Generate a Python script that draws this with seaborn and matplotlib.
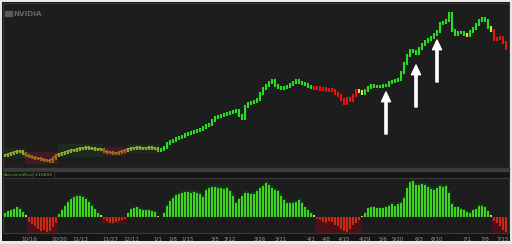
import numpy as np
import pandas as pd
import matplotlib
matplotlib.use("Agg")
import matplotlib.pyplot as plt
from matplotlib.patches import Rectangle
import seaborn as sns

# ---------------- data ----------------
price = [15, 16, 17, 18, 19, 19, 17, 15, 14, 13,
         12, 12, 11, 10, 10, 9, 12, 15, 16, 17,
         18, 19, 20, 20, 21, 22, 22, 23, 22, 22,
         21, 21, 21, 19, 18, 18, 17, 17, 18, 19,
         20, 21, 22, 22, 23, 22, 22, 22, 23, 22,
         22, 20, 21, 23, 27, 29, 30, 32, 33, 34,
         36, 37, 38, 39, 40, 41, 43, 45, 46, 50,
         53, 54, 55, 56, 57, 58, 59, 60, 55, 52,
         64, 67, 68, 69, 71, 77, 82, 85, 88, 90,
         85, 83, 82, 83, 84, 86, 88, 90, 88, 87,
         86, 84, 83, 82, 83, 81, 82, 80, 81, 80,
         77, 75, 71, 67, 72, 70, 75, 80, 79, 77,
         80, 83, 85, 84, 84, 84, 85, 85, 88, 89,
         90, 91, 98, 107, 115, 120, 119, 117, 122, 126,
         129, 131, 133, 136, 139, 147, 148, 150, 157, 140,
         136, 138, 138, 136, 135, 139, 142, 146, 150, 152,
         150, 143, 140, 131, 132, 133, 128, 122]

price_color_runs = [("d", 7), ("o", 11), ("d", 15), ("o", 8), ("d", 11),
                    ("g", 51), ("r", 15), ("y", 2), ("g", 34), ("y", 1),
                    ("g", 7), ("y", 1), ("r", 5)]

osc = [4, 6, 7, 8, 10, 8, 5, 2, -5, -7,
       -9, -12, -14, -13, -15, -14, -10, -6, 3, 7,
       12, 16, 19, 21, 22, 22, 21, 19, 16, 12,
       8, 4, 2, -2, -4, -6, -6, -5, -4, -3,
       -2, 4, 8, 9, 10, 8, 7, 7, 7, 6,
       5, 1, 0, 4, 12, 17, 20, 23, 24, 25,
       26, 26, 25, 26, 25, 24, 21, 28, 30, 31,
       31, 30, 30, 29, 30, 27, 22, 15, 19, 22,
       25, 25, 24, 24, 27, 30, 32, 35, 33, 30,
       28, 27, 22, 18, 15, 15, 15, 16, 18, 15,
       10, 7, 4, 2, -2, -3, -5, -6, -4, -5,
       -8, -9, -12, -14, -15, -12, -8, -6, -3, 1,
       4, 9, 10, 10, 9, 9, 9, 10, 12, 14,
       12, 14, 15, 20, 30, 36, 37, 33, 33, 34,
       33, 31, 29, 28, 30, 32, 31, 32, 25, 14,
       10, 10, 8, 7, 5, 4, 7, 8, 12, 12,
       10, 6, 2, -4, -6, -9, -13, -15]

tick_pos = [8, 18, 25, 35, 42, 51, 56, 61, 70, 75, 85, 92,
            102, 107, 113, 120, 126, 131, 138, 144, 154, 160, 166]
tick_labels = ["10/16", "10/30", "11/13", "11/27", "12/11", "1/1", "1/8",
               "1/15", "3/5", "3/12", "3/26", "3/11", "4/1", "4/8", "4/15",
               "4/29", "5/6", "5/20", "6/3", "6/10", "7/1", "7/8", "7/15"]

arrow_idx = [127, 137, 144]
arrow_gap = [7, 12, 9]
arrow_len = 42

indicator_name = "AwesomeWave"
indicator_value = "2.15602"
title = "NVIDIA"

# ---------------- styling ----------------
sns.set_theme(style="dark")
plt.rcParams["font.family"] = ["DejaVu Sans"]

W, H = 512, 244
PANEL = "#1d1d1d"
fig = plt.figure(figsize=(W / 100, H / 100), dpi=100, facecolor="#e9e9e9")


def frac(x0, y0, x1, y1):
    return [x0 / W, 1 - y1 / H, (x1 - x0) / W, (y1 - y0) / H]


bg = fig.add_axes(frac(2, 2, 510, 241))
bg.set_facecolor("#151515")
bg.set_xticks([]); bg.set_yticks([])
for s in bg.spines.values():
    s.set_visible(False)
bg.set_zorder(-5)

ax = fig.add_axes(frac(3, 3, 509, 168))
ax2 = fig.add_axes(frac(3, 178, 509, 233))
for a in (ax, ax2):
    a.set_facecolor(PANEL)
    for s in a.spines.values():
        s.set_color("#3a3a3a")
        s.set_linewidth(0.8)
    a.set_xlim(-0.667, 168)
    a.grid(False)

# separator and label strip
fig.patches.append(Rectangle((3 / W, 1 - 171 / H), 506 / W, 3 / H,
                             transform=fig.transFigure, color="#3b3b3b", zorder=1))
fig.patches.append(Rectangle((3 / W, 1 - 178 / H), 30 / W, 7 / H,
                             transform=fig.transFigure, facecolor="#101a10",
                             edgecolor="#3a3a3a", lw=0.5, zorder=1))
fig.patches.append(Rectangle((33 / W, 1 - 178 / H), 21 / W, 7 / H,
                             transform=fig.transFigure, facecolor="#111111",
                             edgecolor="#3a3a3a", lw=0.5, zorder=1))
fig.text(4 / W, 1 - 174.8 / H, indicator_name, color="#6f9a3a", fontsize=2.9,
         va="center", ha="left")
fig.text(35 / W, 1 - 174.8 / H, indicator_value, color="#8fb060", fontsize=3.2,
         va="center", ha="left")

# ---------------- price panel ----------------
price = np.array(price, dtype=float)
idx = np.arange(len(price))
codes = np.concatenate([[c] * n for c, n in price_color_runs])
prev = np.concatenate([[price[0]], price[:-1]])
lo = np.minimum(prev, price) - 1.5
hi = np.maximum(prev, price) + 1.5

code_color = {"d": "#95a52c", "o": "#a0621c", "g": "#20e020",
              "r": "#e21414", "y": "#e6e040"}

# background boxes around dimmed runs
start = 0
for c, n in price_color_runs:
    if c in ("o", "d"):
        seg = price[start:start + n]
        col = "#431a22" if c == "o" else "#1b2b21"
        ax.add_patch(Rectangle((start - 0.5, seg.min() - 3), n,
                               seg.max() - seg.min() + 6, color=col, zorder=0.5, lw=0))
    start += n

dim_mask = np.isin(codes, ["d", "o"])
dim_df = pd.DataFrame({"i": idx[dim_mask], "p": price[dim_mask]})
sns.lineplot(data=dim_df, x="i", y="p", ax=ax, color="#8c9a2c", lw=0.9, zorder=2)
ax.vlines(idx, lo, hi, colors=[code_color[c] for c in codes], lw=1.5, zorder=3)

ax.set_ylim(2, 167)
ax.set_xticks([]); ax.set_yticks([])
ax.set_xlabel(""); ax.set_ylabel("")

for i, g in zip(arrow_idx, arrow_gap):
    tip = price[i] - g
    ax.annotate("", xy=(i, tip), xytext=(i, tip - arrow_len),
                arrowprops=dict(facecolor="white", edgecolor="white", width=1.6,
                                headwidth=6.5, headlength=7, shrink=0), zorder=6)

# title / logo
fig.patches.append(Rectangle((5 / W, 1 - 16 / H), 7 / W, 5 / H,
                             transform=fig.transFigure, color="#5a5a5a", zorder=3))
fig.text(13 / W, 1 - 13.5 / H, title, color="#666666", fontsize=5.2,
         fontweight="bold", va="center", ha="left")

# ---------------- oscillator panel ----------------
osc = np.array(osc, dtype=float)
cat = np.where(osc > 2, "up", np.where(osc < -1, "down", "flat"))

# glow behind positive bars, boxes behind negative runs
ax2.fill_between(idx, 0, osc + 1.5, where=osc > 0, step="mid",
                 color="#123a1c", lw=0, zorder=0.5)
neg = osc < -1
i = 0
while i < len(osc):
    if neg[i]:
        j = i
        while j + 1 < len(osc) and neg[j + 1]:
            j += 1
        m = osc[i:j + 1].min()
        ax2.add_patch(Rectangle((i - 0.6, m - 1), j - i + 1.2, -m + 1,
                                color="#4a1218", lw=0, zorder=0.5))
        i = j + 1
    else:
        i += 1

osc_df = pd.DataFrame({"i": idx, "v": osc, "c": cat})
sns.barplot(data=osc_df, x="i", y="v", hue="c", native_scale=True, dodge=False,
            palette={"up": "#40d41e", "down": "#cc2a14", "flat": "#e0d84a"},
            width=0.7, saturation=1, legend=False, errorbar=None, ax=ax2,
            zorder=2, linewidth=0, edgecolor="none")
ax2.set_xlim(-0.667, 168)
ax2.set_ylim(-16, 40)
ax2.set_yticks([])
ax2.set_xlabel(""); ax2.set_ylabel("")
ax2.set_xticks(tick_pos)
ax2.set_xticklabels(tick_labels)
ax2.tick_params(axis="x", colors="#9a9a9a", labelsize=4.0, length=0, pad=2.2)

fig.savefig("out.png", dpi=100, facecolor=fig.get_facecolor())
